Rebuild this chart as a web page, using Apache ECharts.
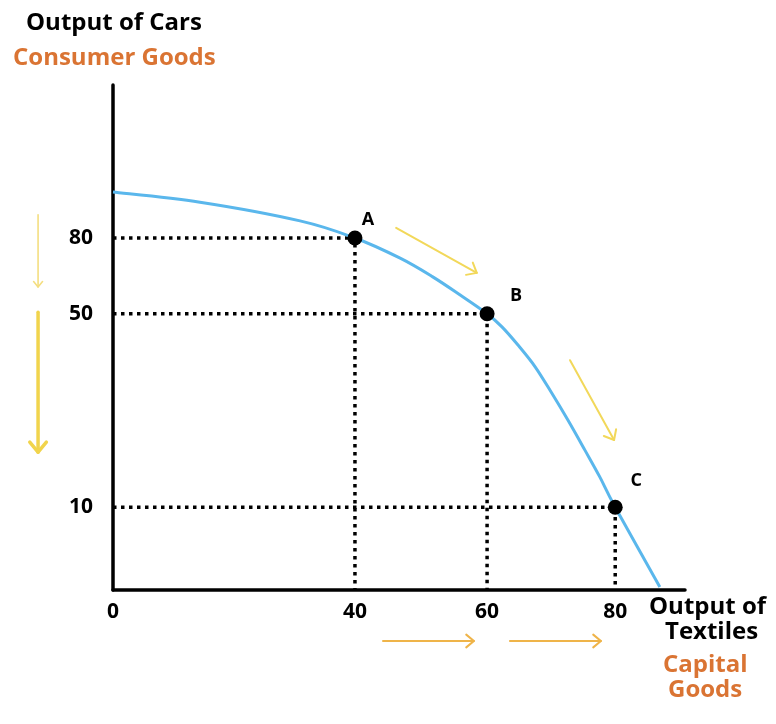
<!DOCTYPE html>
<html>
<head>
<meta charset="utf-8">
<script src="https://cdn.jsdelivr.net/npm/echarts@6/dist/echarts.min.js"></script>
<style>
html,body{margin:0;padding:0;background:#fff;}
#chart{width:776px;height:724px;}
</style>
</head>
<body>
<div id="chart"></div>
<script>
// ---- Data (diagram units on a 0-100 schematic scale) ----
var pointNames = ['A', 'B', 'C'];
var textilesOutput = [40, 60, 80];      // labels on the x axis
var carsOutput = [80, 50, 10];          // labels on the y axis
var pointX = [42.3, 65.4, 87.8];        // schematic x of points A, B, C
var pointY = [69.7, 54.7, 16.4];        // schematic y of points A, B, C
var curveX = [0, 15.2, 32.7, 42.3, 50.2, 55.9, 60.7, 65.4, 68.0, 70.8, 73.8, 76.7, 79.5, 82.5, 85.1, 87.8, 95.6];
var curveY = [78.8, 76.8, 73.1, 69.7, 65.7, 62.0, 58.4, 54.7, 52.1, 48.5, 44.2, 39.0, 33.7, 27.7, 22.4, 16.4, 0.6];
// annotation arrows: [x1, y1, x2, y2] in diagram units
var arrowsYellowThin = [[-13.1, 74.3, -13.1, 60.0]];
var arrowsYellowThick = [[-13.1, 55.0, -13.1, 27.3]];
var arrowsYellowDiag = [[49.5, 71.7, 63.6, 62.8], [79.9, 45.5, 87.6, 29.7]];
var arrowsOrange = [[47.2, -10.1, 63.1, -10.1], [69.4, -10.1, 85.3, -10.1]];

// ---- Styles ----
var FONT = '"Open Sans", "DejaVu Sans", sans-serif';
var ORANGE = '#DA7433';
var labelOffsets = [[13, -18], [29, -18], [21, -26]];

var chart = echarts.init(document.getElementById('chart'));

function arrowSeries(list, color, width, head) {
  return {
    type: 'custom',
    coordinateSystem: 'cartesian2d',
    silent: true,
    clip: false,
    z: 1,
    data: list,
    renderItem: function (params, api) {
      var p1 = api.coord([api.value(0), api.value(1)]);
      var p2 = api.coord([api.value(2), api.value(3)]);
      var ang = Math.atan2(p2[1] - p1[1], p2[0] - p1[0]);
      var a1 = ang + Math.PI * 0.78, a2 = ang - Math.PI * 0.78;
      var h1 = [p2[0] + head * Math.cos(a1), p2[1] + head * Math.sin(a1)];
      var h2 = [p2[0] + head * Math.cos(a2), p2[1] + head * Math.sin(a2)];
      var st = { stroke: color, lineWidth: width, fill: null, lineCap: 'round', lineJoin: 'round' };
      return {
        type: 'group',
        children: [
          { type: 'polyline', shape: { points: [p1, p2] }, style: st },
          { type: 'polyline', shape: { points: [h1, p2, h2] }, style: st }
        ]
      };
    }
  };
}

var dropSeries = pointNames.map(function (n, i) {
  return {
    type: 'line',
    silent: true,
    symbol: 'none',
    z: 2,
    lineStyle: { color: '#000', width: 3.5, type: [3.5, 4.5] },
    data: [[0, pointY[i]], [pointX[i], pointY[i]], [pointX[i], 0]]
  };
});

var curveData = curveX.map(function (x, i) { return [x, curveY[i]]; });

// Smooth PPF curve: Catmull-Rom spline through the read points, mapped by the axes.
var curveSeries = {
  type: 'custom',
  coordinateSystem: 'cartesian2d',
  silent: true,
  clip: false,
  z: 3,
  data: curveData,
  renderItem: function (params, api) {
    if (params.dataIndex !== 0) return null;
    var pts = curveData.map(function (d) { return api.coord(d); });
    var n = pts.length;
    var path = 'M' + pts[0][0] + ',' + pts[0][1];
    for (var i = 0; i < n - 1; i++) {
      var p0 = pts[Math.max(i - 1, 0)], p1 = pts[i], p2 = pts[i + 1], p3 = pts[Math.min(i + 2, n - 1)];
      var c1 = [p1[0] + (p2[0] - p0[0]) / 6, p1[1] + (p2[1] - p0[1]) / 6];
      var c2 = [p2[0] - (p3[0] - p1[0]) / 6, p2[1] - (p3[1] - p1[1]) / 6];
      path += ' C' + c1[0] + ',' + c1[1] + ' ' + c2[0] + ',' + c2[1] + ' ' + p2[0] + ',' + p2[1];
    }
    return {
      type: 'path',
      shape: { pathData: path },
      style: { stroke: '#5AB7EC', lineWidth: 3, fill: null }
    };
  }
};

function txt(s, left, top, color) {
  return { type: 'text', left: left, top: top, style: { text: s, font: 'bold 24px ' + FONT, fill: color } };
}

var option = {
  backgroundColor: '#fff',
  animation: false,
  grid: { left: 113, top: 85, width: 572, height: 505 },
  xAxis: {
    type: 'value', min: 0, max: 100,
    axisLine: { show: true, lineStyle: { color: '#000', width: 3.5 } },
    axisTick: { show: false },
    splitLine: { show: false },
    axisLabel: {
      customValues: [0].concat(pointX),
      formatter: function (v) {
        var k = pointX.indexOf(v);
        return k < 0 ? '0' : String(textilesOutput[k]);
      },
      margin: 12, fontSize: 21, fontWeight: 'bold', color: '#000', fontFamily: FONT
    }
  },
  yAxis: {
    type: 'value', min: 0, max: 100,
    axisLine: { show: true, lineStyle: { color: '#000', width: 3.5 } },
    axisTick: { show: false },
    splitLine: { show: false },
    axisLabel: {
      customValues: pointY,
      formatter: function (v) {
        var k = pointY.indexOf(v);
        return k < 0 ? '' : String(carsOutput[k]);
      },
      margin: 20, fontSize: 21, fontWeight: 'bold', color: '#000', fontFamily: FONT
    }
  },
  graphic: [
    txt('Output of Cars', 26, 11, '#000'),
    txt('Consumer Goods', 13, 46, ORANGE),
    txt('Output of', 649, 595, '#000'),
    txt('Textiles', 665, 620, '#000'),
    txt('Capital', 663, 653, ORANGE),
    txt('Goods', 668, 678, ORANGE)
  ],
  series: dropSeries.concat([
    curveSeries,
    {
      type: 'scatter',
      silent: true,
      z: 4,
      symbolSize: 15,
      itemStyle: { color: '#000', opacity: 1 },
      data: pointNames.map(function (n, i) {
        return {
          value: [pointX[i], pointY[i]],
          name: n,
          label: {
            show: true, formatter: n, position: 'inside', offset: labelOffsets[i],
            fontSize: 18, fontWeight: 'bold', color: '#000', fontFamily: FONT
          }
        };
      })
    },
    arrowSeries(arrowsYellowThin, '#F4DE80', 1.6, 7),
    arrowSeries(arrowsYellowThick, '#F1D44C', 3.5, 13),
    arrowSeries(arrowsYellowDiag, '#F2D85A', 2, 11),
    arrowSeries(arrowsOrange, '#EFB449', 2, 10)
  ])
};
chart.setOption(option);
</script>
</body>
</html>
